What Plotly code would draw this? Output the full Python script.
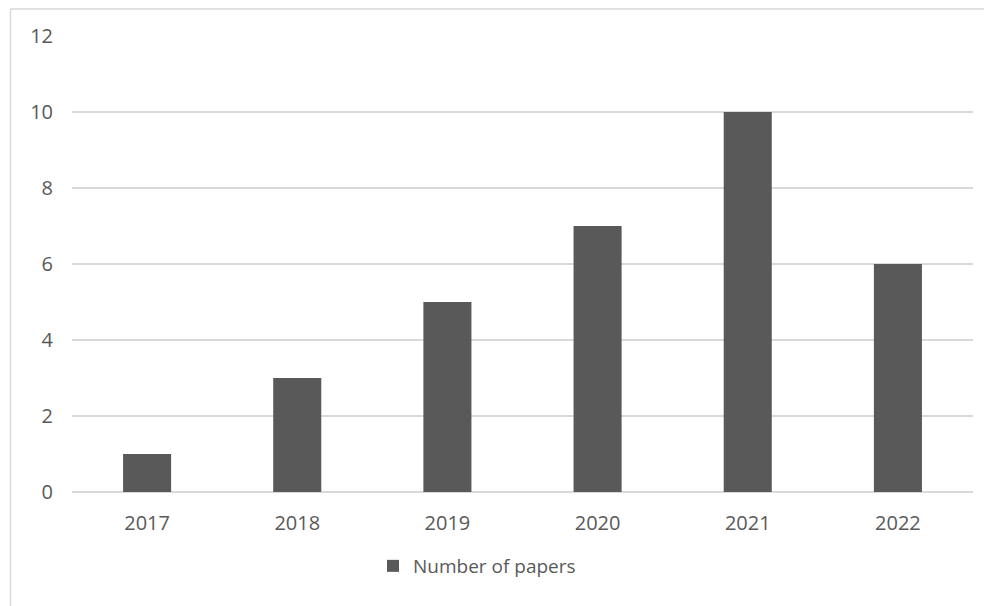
import plotly.graph_objects as go

years = ["2017", "2018", "2019", "2020", "2021", "2022"]
papers = [1, 3, 5, 7, 10, 6]
series_name = "Number of papers"
y_ticks = [0, 2, 4, 6, 8, 10, 12]

# page body adds an 8px offset; work in figure coordinates
OFF = 8
W, H = 992 - OFF, 606 - OFF
L, R, T, B = 72 - OFF, W - (973 - OFF), 36 - OFF, H - (492 - OFF)
pw, ph = W - L - R, H - T - B

def px_x(x):
    return (x - OFF - L) / pw

def px_y(y):
    return (H - B - (y - OFF)) / ph

fig = go.Figure()
fig.add_trace(go.Bar(x=years, y=papers, name=series_name,
                     marker=dict(color="#595959", line=dict(width=0))))

fig.update_layout(
    width=W, height=H,
    margin=dict(l=L, r=R, t=T, b=B),
    paper_bgcolor="white", plot_bgcolor="white",
    bargap=0.68,
    font=dict(family="Open Sans", size=19, color="#595959"),
    showlegend=True,
    legend=dict(orientation="h", x=px_x(373), xanchor="left", y=px_y(566), yanchor="middle",
                font=dict(size=19, color="#595959"), itemwidth=30),
    xaxis=dict(showgrid=False, showline=False, ticks="", ticklabelstandoff=17,
               tickfont=dict(size=20, color="#595959")),
    yaxis=dict(range=[0, 12], tickvals=y_ticks, showgrid=True, gridcolor="#d9d9d9",
               gridwidth=1.5, zeroline=True, zerolinecolor="#d9d9d9", zerolinewidth=1.5,
               showline=False, ticks="", ticklabelstandoff=18,
               tickfont=dict(size=20, color="#595959")),
    shapes=[dict(type="rect", xref="paper", yref="paper",
                 x0=px_x(10.5), x1=px_x(1010), y0=px_y(630), y1=px_y(9),
                 line=dict(color="#d9d9d9", width=1.5), fillcolor="rgba(0,0,0,0)",
                 layer="below")],
)

fig.write_html("out.html")
